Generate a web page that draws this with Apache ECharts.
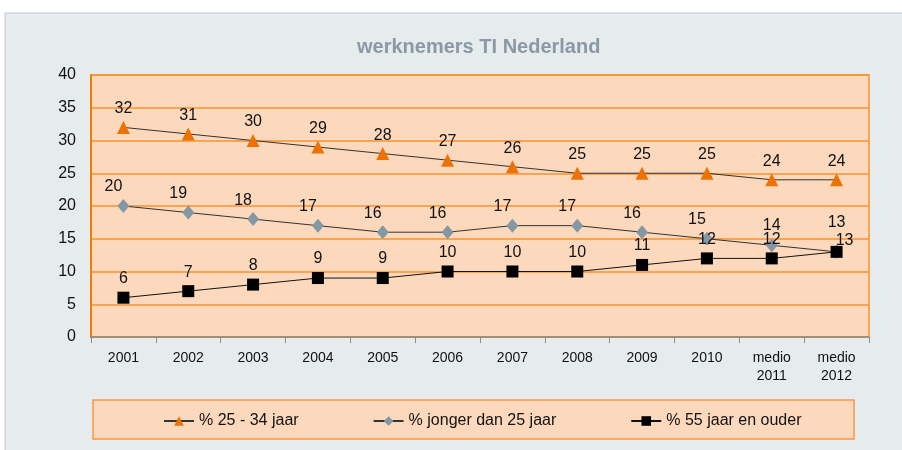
<!DOCTYPE html>
<html><head><meta charset="utf-8">
<script src="https://cdn.jsdelivr.net/npm/echarts@6/dist/echarts.min.js"></script>
<style>html,body{margin:0;padding:0;background:#fff}#c{width:902px;height:450px}</style>
</head><body><div id="c"></div>
<script>
const categories = ['2001','2002','2003','2004','2005','2006','2007','2008','2009','2010','medio\n2011','medio\n2012'];
const s2534 = [32,31,30,29,28,27,26,25,25,25,24,24];
const sJonger = [20,19,18,17,16,16,17,17,16,15,14,13];
const s55 = [6,7,8,9,9,10,10,10,11,12,12,13];
const yTicks = [0,5,10,15,20,25,30,35,40];
const seriesNames = ['% 25 - 34 jaar','% jonger dan 25 jaar','% 55 jaar en ouder'];

const FONT = '"Liberation Sans", Arial, sans-serif';
const chart = echarts.init(document.getElementById('c'));
const lbl = (extra) => Object.assign({show:true, position:'top', color:'#111', fontSize:16, fontFamily:FONT}, extra);

const jongerData = sJonger.map((v,i) => {
  const d = {value:v};
  if (i === 10) d.label = {offset:[0,-1]};
  else if (i === 11) d.label = {offset:[0,-10]};
  return d;
});
const s55Data = s55.map((v,i) => {
  const d = {value:v};
  if (i === 11) d.label = {offset:[8,8]};
  return d;
});

chart.setOption({
  animation:false,
  textStyle:{fontFamily:FONT},
  graphic:[
    {type:'rect', z:-10, shape:{x:5,y:13,width:900,height:440}, style:{fill:'#e6ebee', stroke:'#bfc8cd', lineWidth:1}},
    {type:'rect', z:-9, shape:{x:93,y:400,width:761,height:39}, style:{fill:'#fcd9bc', stroke:'#f79646', lineWidth:1.5}}
  ],
  title:{text:'werknemers TI Nederland', left:352, top:32,
    textStyle:{color:'#8a99a4', fontSize:20, fontWeight:'bold', fontFamily:FONT}},
  grid:{left:91, right:33, top:75, bottom:113, show:true, backgroundColor:'#fcd9bc', borderColor:'#f7922f', borderWidth:1.5},
  legend:{left:158, top:408, itemGap:74, itemWidth:30, itemHeight:12,
    textStyle:{fontSize:16, color:'#111', fontFamily:FONT}, data:seriesNames},
  xAxis:{type:'category', data:categories, boundaryGap:true,
    axisLine:{lineStyle:{color:'#8a8a8a', width:1.5}},
    axisTick:{show:true, length:6, lineStyle:{color:'#8a8a8a'}},
    axisLabel:{color:'#111', fontSize:14, margin:12, lineHeight:18, interval:0}},
  yAxis:{type:'value', min:yTicks[0], max:yTicks[yTicks.length-1], interval:5,
    axisLine:{show:true, lineStyle:{color:'#f07c00', width:2}},
    axisTick:{show:false},
    axisLabel:{color:'#111', fontSize:16, margin:15},
    splitLine:{lineStyle:{color:'#f7922f', width:1.5}}},
  series:[
    {name:seriesNames[0], type:'line', data:s2534, symbol:'triangle', symbolSize:13,
      lineStyle:{color:'#333', width:1}, itemStyle:{color:'#ee7203'},
      label:lbl({distance:4})},
    {name:seriesNames[1], type:'line', data:jongerData, symbol:'diamond', symbolSize:[12,14],
      lineStyle:{color:'#333', width:1}, itemStyle:{color:'#8497a5'},
      label:lbl({distance:4, offset:[-10,0]})},
    {name:seriesNames[2], type:'line', data:s55Data, symbol:'rect', symbolSize:12,
      lineStyle:{color:'#111', width:1}, itemStyle:{color:'#000'},
      label:lbl({distance:5})}
  ]
});
</script></body></html>
